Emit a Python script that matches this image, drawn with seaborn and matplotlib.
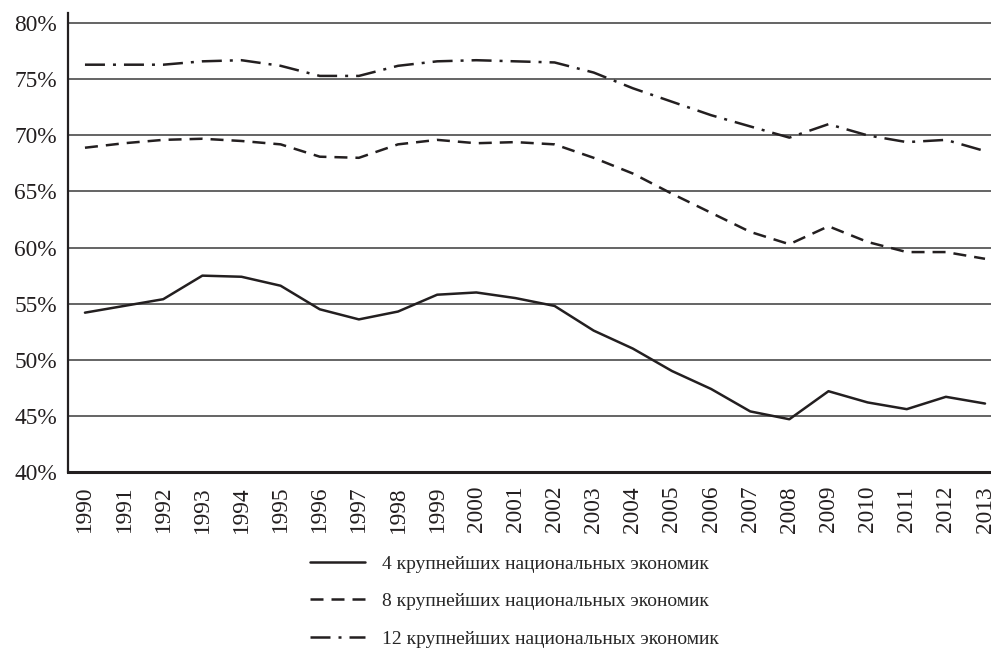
import numpy as np
import pandas as pd
import seaborn as sns
import matplotlib.pyplot as plt

years = list(range(1990, 2014))
top4 = [54.2, 54.8, 55.4, 57.5, 57.4, 56.6, 54.5, 53.6, 54.3, 55.8, 56.0, 55.5,
        54.8, 52.6, 51.0, 49.0, 47.4, 45.4, 44.7, 47.2, 46.2, 45.6, 46.7, 46.1]
top8 = [68.9, 69.3, 69.6, 69.7, 69.5, 69.2, 68.1, 68.0, 69.2, 69.6, 69.3, 69.4,
        69.2, 68.0, 66.6, 64.8, 63.1, 61.4, 60.3, 61.9, 60.5, 59.6, 59.6, 59.0]
top12 = [76.3, 76.3, 76.3, 76.6, 76.7, 76.2, 75.3, 75.3, 76.2, 76.6, 76.7, 76.6,
         76.5, 75.6, 74.2, 73.0, 71.8, 70.8, 69.8, 71.0, 70.0, 69.4, 69.6, 68.6]
labels = ['4 крупнейших национальных экономик',
          '8 крупнейших национальных экономик',
          '12 крупнейших национальных экономик']
yticks = [40, 45, 50, 55, 60, 65, 70, 75, 80]

df = pd.DataFrame({'year': years * 3,
                   'share': top4 + top8 + top12,
                   'group': [labels[0]] * 24 + [labels[1]] * 24 + [labels[2]] * 24})

sns.set_style('white')
plt.rcParams['font.family'] = ['Liberation Serif', 'DejaVu Serif']
ink = '#231f20'

fig = plt.figure(figsize=(9.91, 6.54), dpi=100)
ax = fig.add_axes([0.0686, 0.2783, 0.9314, 0.7017])

# horizontal grid lines
for v in yticks[1:]:
    ax.axhline(v, color='#3a3a3a', lw=1.1, zorder=0)

sns.lineplot(data=df, x='year', y='share', hue='group', style='group', ax=ax,
             palette=[ink] * 3,
             dashes={labels[0]: '', labels[1]: (5.2, 3.2), labels[2]: (8, 3.2, 1.2, 3.2)},
             linewidth=1.8)

ax.set_xlim(1989.566, 2013.153)
ax.set_ylim(40, 80.9)
ax.set_xticks(years)
ax.set_xticklabels([str(y) for y in years], rotation=90)
ax.set_yticks(yticks)
ax.set_yticklabels([f'{v}%' for v in yticks])
ax.set_xlabel('')
ax.set_ylabel('')
ax.tick_params(axis='both', length=0, labelsize=16.8, colors=ink)
ax.tick_params(axis='y', pad=8)
ax.tick_params(axis='x', pad=10)

for s in ['top', 'right']:
    ax.spines[s].set_visible(False)
ax.spines['left'].set_color(ink)
ax.spines['left'].set_linewidth(1.6)
ax.spines['bottom'].set_color(ink)
ax.spines['bottom'].set_linewidth(2.2)

sns.move_legend(ax, 'upper left', bbox_to_anchor=(0.313, 0.151),
                bbox_transform=fig.transFigure, frameon=False, title=None,
                fontsize=14, handlelength=2.8, handletextpad=0.9,
                labelspacing=1.02, borderpad=0, borderaxespad=0)
for line in ax.get_legend().get_lines():
    line.set_linewidth(1.8)

fig.savefig('out.png', dpi=100)
